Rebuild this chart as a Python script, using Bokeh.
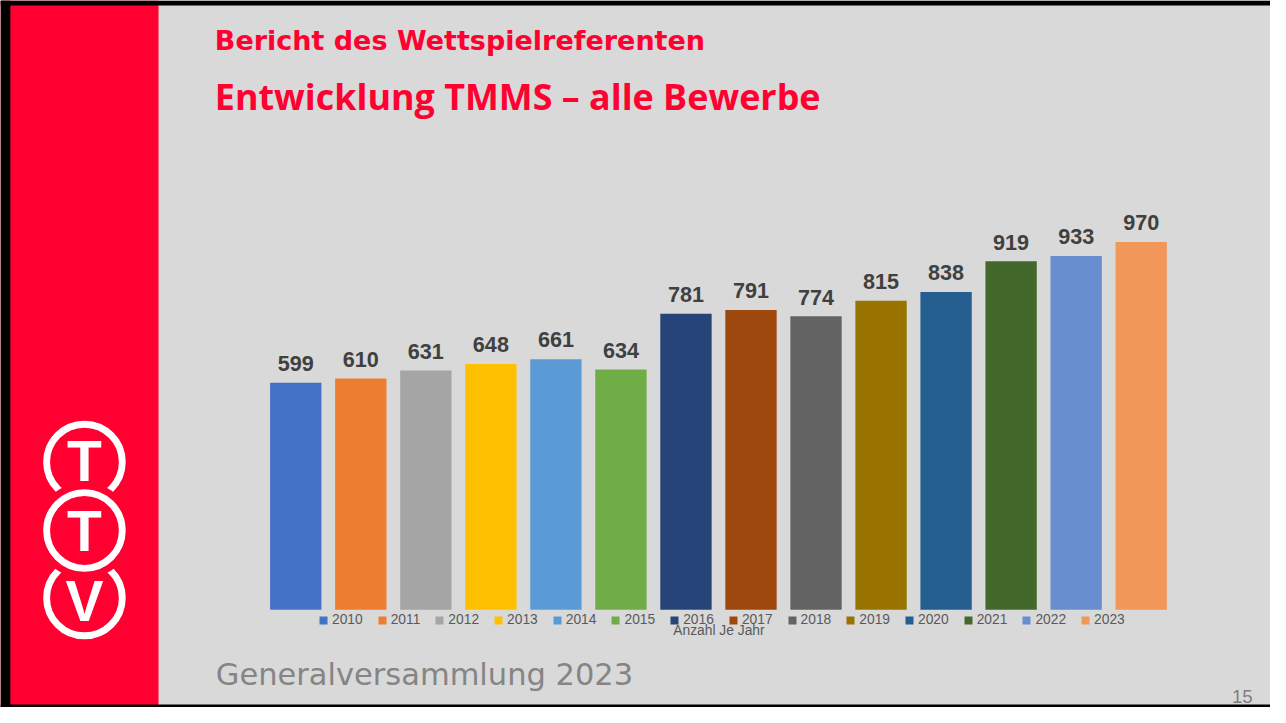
from bokeh.plotting import figure
from bokeh.models import Range1d, ColumnDataSource, Legend, LegendItem, Label
from bokeh.core.properties import value
from bokeh.embed import file_html
from bokeh.resources import INLINE

# ---- data ----
years = [2010, 2011, 2012, 2013, 2014, 2015, 2016, 2017, 2018, 2019, 2020, 2021, 2022, 2023]
counts = [599, 610, 631, 648, 661, 634, 781, 791, 774, 815, 838, 919, 933, 970]
colors = ["#4472C4", "#ED7D31", "#A5A5A5", "#FFC000", "#5B9BD5", "#70AD47", "#264478",
          "#9E480E", "#636363", "#997300", "#255E91", "#43682B", "#698ED0", "#F1975A"]
title1 = "Bericht des Wettspielreferenten"
title2 = "Entwicklung TMMS \u2013 alle Bewerbe"
axis_title = "Anzahl Je Jahr"
footer = "Generalversammlung 2023"
page_no = "15"

# ---- layout: slide geometry (1286 x 723 slide) squeezed into the figure ----
W, H = 1270, 707
SW, SH = 1286, 723
SX, SY = W / SW, H / SH
S = (SX + SY) / 2
STEP = 65.85            # slide px per category
X_FIRST = 299           # slide px centre of first bar
BASE = 623              # slide px of zero line
K = 376 / 970           # slide px per unit


def X(px):
    return years[0] + (px - X_FIRST) / STEP


def Y(py):
    return (BASE - py) / K


def fs(px):
    return "%.1fpx" % (px * S)


RED = "#FF0030"
BG = "#D9D9D9"

p = figure(width=W, height=H, output_backend="svg", toolbar_location=None,
           x_range=Range1d(X(0), X(SW)), y_range=Range1d(Y(SH), Y(0)),
           min_border=0, background_fill_color=BG, border_fill_color=BG,
           outline_line_color=None)
p.axis.visible = False
p.grid.visible = False

# slide frame: red panel and black edges
p.quad(left=X(0), right=X(160), bottom=Y(SH), top=Y(0), fill_color=RED, line_color=None)
p.quad(left=X(0), right=X(10), bottom=Y(SH), top=Y(0), fill_color="black", line_color=None)
p.quad(left=X(0), right=X(SW), bottom=Y(5), top=Y(0), fill_color="black", line_color=None)
p.quad(left=X(0), right=X(SW), bottom=Y(SH), top=Y(720), fill_color="black", line_color=None)

# logo
cx = X(85)
cy = [Y(472), Y(542), Y(611)]
ring = dict(marker="circle", size=77 * S, fill_color=None, line_color="white", line_width=7 * S)
p.scatter(x=cx, y=cy[0], **ring)
p.scatter(x=cx, y=cy[2], **ring)
p.scatter(x=cx, y=cy[1], marker="circle", size=98 * S, fill_color=RED, line_color=None)
p.scatter(x=cx, y=cy[1], **ring)
for txt, mid in (("T", 471), ("T", 542.5), ("V", 614)):
    p.add_layout(Label(x=cx, y=Y(mid), text=txt, text_color="white",
                       text_font="Liberation Sans", text_font_style="bold",
                       text_font_size=fs(58), text_align="center",
                       text_baseline="middle"))

# bars
src = ColumnDataSource(dict(year=years, count=counts, color=colors,
                            label=[str(c) for c in counts]))
bars = p.vbar(x="year", top="count", bottom=0, width=52 / STEP, fill_color="color",
              line_color=None, source=src)
p.text(x="year", y="count", text="label", source=src, y_offset=-19.5 * S,
       text_font=value("Liberation Sans"), text_font_style="bold", text_font_size=fs(22),
       text_color="#404040", text_align="center", text_baseline="middle")

# legend
items = [LegendItem(label=str(y), renderers=[bars], index=i) for i, y in enumerate(years)]
legend = Legend(items=items, orientation="horizontal",
                location=(322 * SX, (SH - 642) * SY),
                padding=0, margin=0, spacing=int(round(14 * S)), glyph_width=10, glyph_height=10,
                label_standoff=4, label_height=16,
                label_text_font="Liberation Sans", label_text_font_size=fs(14),
                label_text_color="#595959", border_line_color=None,
                background_fill_alpha=0)
p.add_layout(legend, "center")

p.add_layout(Label(x=X(727.5), y=Y(644), text=axis_title, text_align="center",
                   text_baseline="middle", text_font="Liberation Sans",
                   text_font_size=fs(14), text_color="#595959"))

# titles
p.add_layout(Label(x=X(217), y=Y(41), text=title1, text_font="DejaVu Sans",
                   text_font_style="bold", text_font_size=fs(27.5), text_color=RED,
                   text_baseline="middle"))
p.add_layout(Label(x=X(217), y=Y(98), text=title2, text_font="Open Sans",
                   text_font_style="bold", text_font_size=fs(36.5), text_color=RED,
                   text_baseline="middle"))

# footer
p.add_layout(Label(x=X(218), y=Y(689), text=footer, text_font="DejaVu Sans",
                   text_font_size=fs(31), text_color="#858585",
                   text_baseline="middle"))
p.add_layout(Label(x=X(1268), y=Y(712), text=page_no, text_font="Liberation Sans",
                   text_font_size=fs(19), text_color="#7F7F7F", text_align="right",
                   text_baseline="middle"))

open("out.html", "w").write(file_html(p, INLINE))
